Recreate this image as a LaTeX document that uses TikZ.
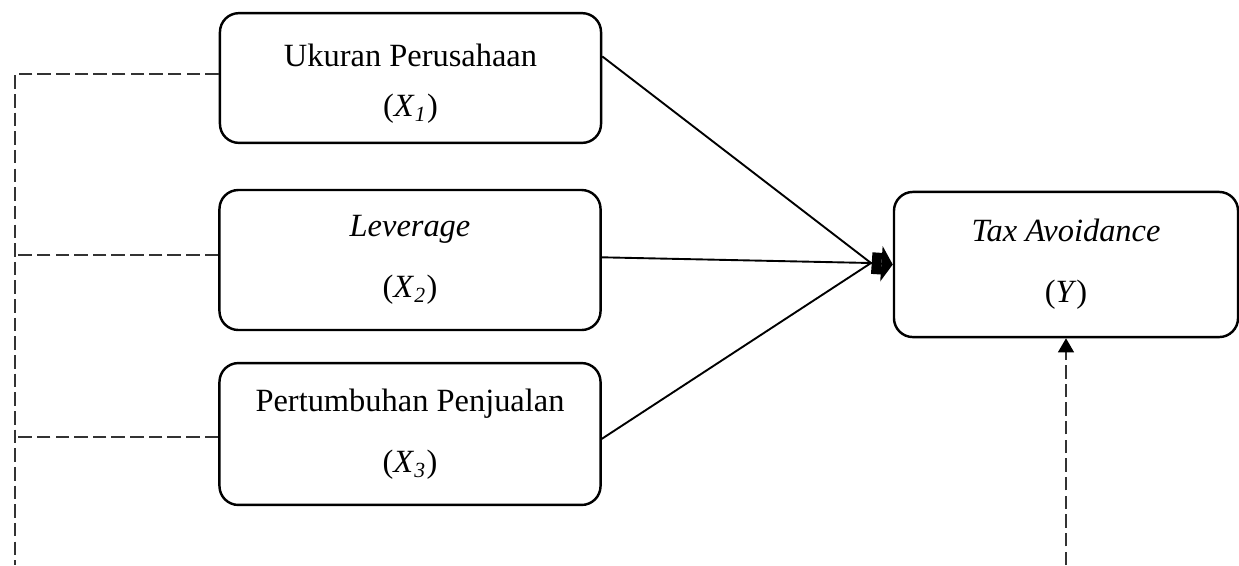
\documentclass[tikz,border=0pt]{standalone}
\usepackage{fontspec}
\setmainfont{Liberation Serif}
\usetikzlibrary{arrows.meta, positioning}

\tikzset{
  varbox/.style={draw, line width=0.9pt, rounded corners=7pt, align=center,
    minimum width=141pt, font=\fontsize{12pt}{22.5pt}\selectfont},
  link/.style={line width=0.7pt},
  dashlink/.style={line width=0.55pt, black!80, dash pattern=on 5pt off 1.9pt}
}

\begin{document}
\begin{tikzpicture}[x=0.37pt, y=-0.37pt]
      \useasboundingbox (0,0) rectangle (1239,565);

      % 1. Variabel independen (kiri)
      \node[varbox, minimum height=48pt] (x1) at (410.5,78) {\rule{0pt}{12.6pt}Ukuran Perusahaan\\[-4pt](\textit{X}\textsubscript{\textit{1}})};
      \node[varbox, minimum height=51.8pt] (x2) at (410,260) {\textit{Leverage}\\(\textit{X}\textsubscript{\textit{2}})};
      \node[varbox, minimum height=52.5pt] (x3) at (410,434) {Pertumbuhan Penjualan\\(\textit{X}\textsubscript{\textit{3}})};

      % 2. Variabel dependen (kanan)
      \node[varbox, minimum width=127.3pt, minimum height=53.7pt] (ta) at (1066,264.5) {\textit{Tax Avoidance}\\(\textit{Y})};

      % 3. Titik bantu
      \coordinate (meet) at (871,263);
      \coordinate (kiri) at (15,565);
      \coordinate (kanan) at (ta.south |- 0,565);
      \coordinate (d1) at ([yshift=1.5pt]x1.west);
      \coordinate (d2) at ([yshift=1.8pt]x2.west);
      \coordinate (d3) at ([yshift=-1.1pt]x3.west);

      % 4. Panah X -> Y
      \draw[link] ([yshift=8pt]x1.east) -- (meet);
      \draw[link] ([yshift=1pt]x2.east) -- (meet);
      \draw[link] ([yshift=-1.8pt]x3.east) -- (meet);
      \draw[link, -{Rectangle[length=3.6pt,width=8pt]Triangle[length=4.2pt,width=13pt]}] (meet) -- (ta.west);

      % 5. Garis putus-putus
      \draw[dashlink] (d1) -| (kiri);
      \draw[dashlink] (d2) -- (d2 -| kiri);
      \draw[dashlink] (d3) -- (d3 -| kiri);
      \draw[dashlink, -{Triangle[length=5.2pt,width=5.9pt,black]}] (kanan) -- (ta.south);

\end{tikzpicture}
\end{document}
